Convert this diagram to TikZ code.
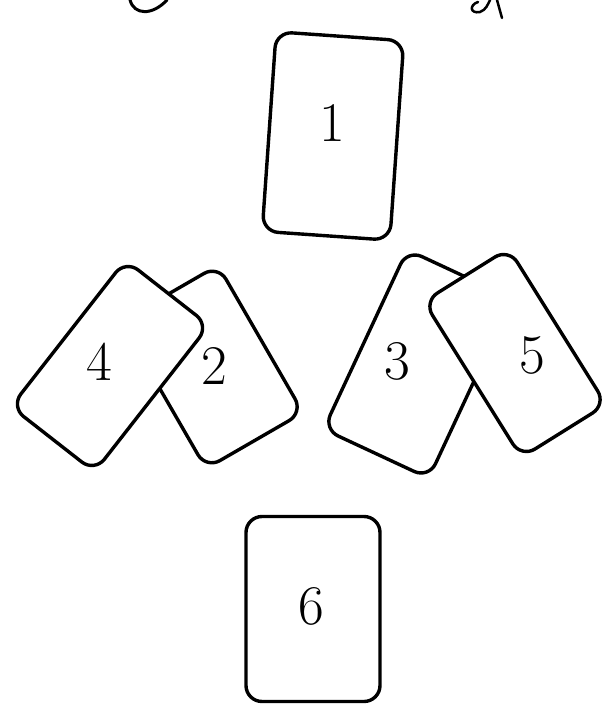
\documentclass[tikz,border=0pt]{standalone}
\usepackage{tikz}
\begin{document}
\begin{tikzpicture}[x=1pt, y=-1pt,
  card/.style={draw=black, fill=white, line width=3.4pt, rounded corners=16pt,
               inner sep=0pt},
  cardnum/.style={font=\fontsize{56}{56}\selectfont, inner sep=0pt}]
\useasboundingbox (0,0) rectangle (605,709);

% Title fragments (cut off at the top edge)
\draw[line width=3pt, line cap=round] (130,0) .. controls (134,15) and (152,16) .. (167,0);
\draw[line width=2.5pt, line cap=round] (478,2) .. controls (469,5) and (470,14) .. (480,12)
  .. controls (486,10) and (488,4) .. (490,0);
\draw[line width=2.5pt, line cap=round] (497,0) -- (502,18);

% --- Top card ---
\node[card, minimum width=128pt, minimum height=200pt, rotate=-4] (card1) at (333,136) {};

% --- Left pair: 2 under 4 ---
\node[card, minimum width=112pt, minimum height=170pt, rotate=30] (card2) at (212,367) {};
\node[card, minimum width=106pt, minimum height=186pt, rotate=-38] (card4) at (110,366) {};

% --- Right pair: 3 under 5 ---
\node[card, minimum width=116pt, minimum height=198pt, rotate=-25] (card3) at (418,364) {};
\node[card, minimum width=100pt, minimum height=184pt, rotate=32] (card5) at (515,353) {};

% --- Bottom card ---
\node[card, minimum width=134pt, minimum height=185pt] (card6) at (313,609) {};

% Card numbers
\node[cardnum] (num1) at (332,123) {1};
\node[cardnum] (num2) at (214,366) {2};
\node[cardnum] (num3) at (397,361) {3};
\node[cardnum] (num4) at (99,362) {4};
\node[cardnum] (num5) at (532,355) {5};
\node[cardnum] (num6) at (311,606) {6};

\end{tikzpicture}
\end{document}
